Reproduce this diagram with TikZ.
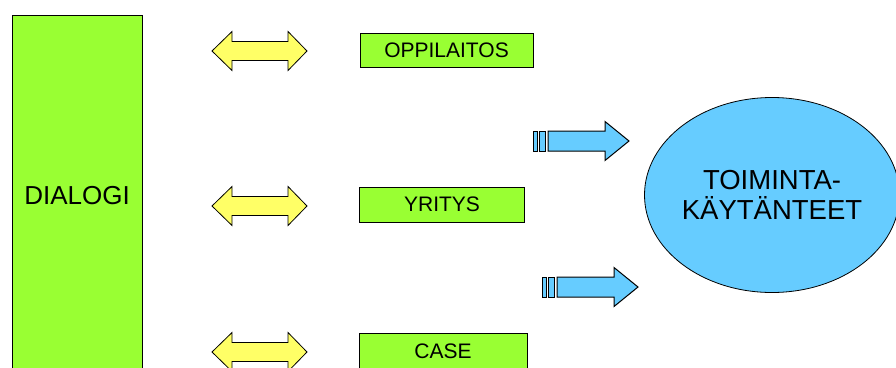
\documentclass[tikz,border=0pt]{standalone}
\usepackage{fontspec}
\setmainfont{Liberation Sans}
\definecolor{boxgreen}{HTML}{99FF33}
\definecolor{arryellow}{HTML}{FFFF66}
\definecolor{arrblue}{HTML}{66CCFF}
\tikzset{
  greenbox/.style={draw=black, line width=0.8pt, fill=boxgreen, inner sep=0pt,
    font=\fontsize{21}{24}\selectfont},
  yellowarrow/.style={draw=black, line width=0.8pt, fill=arryellow, line join=miter},
  bluearrow/.style={draw=black, line width=1pt, fill=arrblue, line join=miter},
  ovalnode/.style={ellipse, draw=black, line width=0.8pt, fill=arrblue, inner sep=0pt,
    align=center, font=\fontsize{27.5}{30.5}\selectfont}
}
\usetikzlibrary{shapes.geometric}
\begin{document}
\begin{tikzpicture}[x=1pt,y=-1pt]
\useasboundingbox (0,0) rectangle (896,367);
\clip (0,0) rectangle (896,367);
% main boxes
\node[greenbox, minimum width=130pt, minimum height=362pt, font=\fontsize{26}{30}\selectfont] (dialogi) at (77,196) {DIALOGI};
\node[greenbox, minimum width=173pt, minimum height=34pt] (oppi) at (446.5,50) {OPPILAITOS};
\node[greenbox, minimum width=165pt, minimum height=35pt] (yritys) at (442,204.5) {YRITYS};
\node[greenbox, minimum width=168pt, minimum height=36pt] (case) at (443,351) {CASE};
\node[ovalnode, minimum width=252pt, minimum height=195pt] (toim) at (772,195) {TOIMINTA-\\KÄYTÄNTEET};
% yellow double arrows
\foreach \yc/\nm in {51/ya, 206/yb, 352/yc}{
  \draw[yellowarrow] (212,\yc) -- (232,\yc-19.5) -- (232,\yc-9.5) -- (288,\yc-9.5) -- (288,\yc-19.5)
    -- (307,\yc) -- (288,\yc+19.5) -- (288,\yc+9.5) -- (232,\yc+9.5) -- (232,\yc+19.5) -- cycle;
}
% blue striped arrows
\foreach \xo/\yc in {0/141, 9/287}{
  \draw[bluearrow] (533+\xo,\yc-10) rectangle (537+\xo,\yc+10);
  \draw[bluearrow] (539+\xo,\yc-10) rectangle (545+\xo,\yc+10);
  \draw[bluearrow] (548+\xo,\yc-10) -- (605+\xo,\yc-10) -- (605+\xo,\yc-19.5) -- (629+\xo,\yc)
    -- (605+\xo,\yc+19.5) -- (605+\xo,\yc+10) -- (548+\xo,\yc+10) -- cycle;
}
\end{tikzpicture}
\end{document}
